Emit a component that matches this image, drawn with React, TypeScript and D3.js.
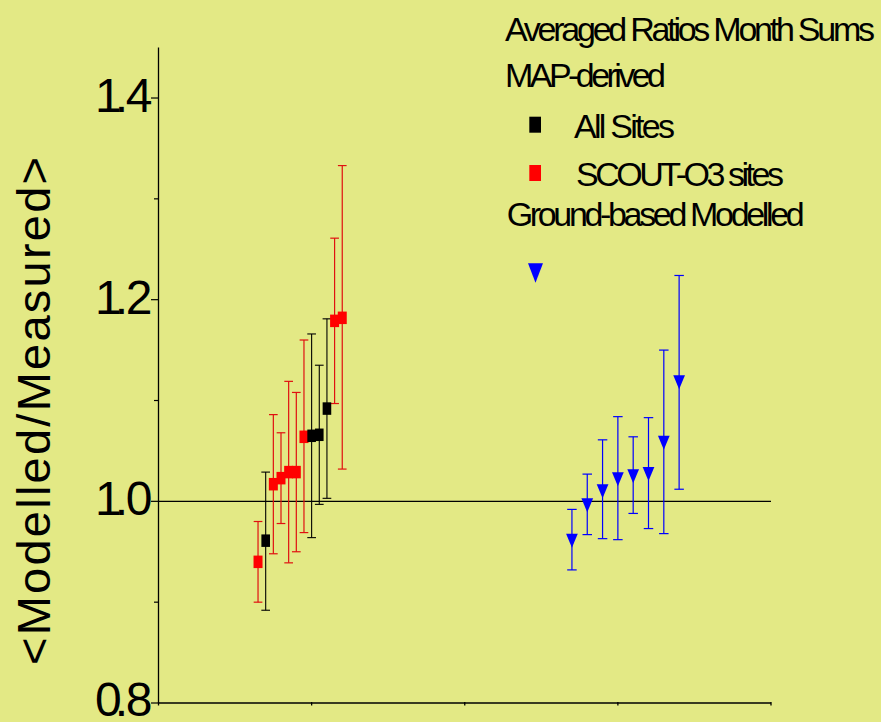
import React from "react";
import * as d3 from "d3";

// MAP-derived, SCOUT-O3 sites
const scoutX = [0.65, 0.75, 0.8, 0.85, 0.9, 0.95, 1.15, 1.2];
const scoutMean = [0.94, 1.017, 1.023, 1.029, 1.029, 1.064, 1.179, 1.182];
const scoutLow = [0.9, 0.948, 0.978, 0.939, 0.95, 0.969, 1.097, 1.032];
const scoutHigh = [0.98, 1.086, 1.068, 1.119, 1.108, 1.16, 1.261, 1.333];

// MAP-derived, all sites
const allX = [0.7, 1.0, 1.05, 1.1];
const allMean = [0.961, 1.065, 1.066, 1.092];
const allLow = [0.892, 0.964, 0.997, 1.003];
const allHigh = [1.029, 1.166, 1.135, 1.181];

// Ground-based modelled
const groundX = [2.7, 2.8, 2.9, 3.0, 3.1, 3.2, 3.3, 3.4];
const groundMean = [0.961, 0.996, 1.01, 1.022, 1.025, 1.027, 1.058, 1.118];
const groundLow = [0.932, 0.967, 0.963, 0.962, 0.988, 0.973, 0.968, 1.012];
const groundHigh = [0.992, 1.027, 1.061, 1.084, 1.064, 1.083, 1.15, 1.224];

const yMajorTicks = [0.8, 1.0, 1.2, 1.4];
const yMinorTicks = [0.9, 1.1, 1.3];
const xTicks = [0, 1, 2, 3, 4];

const legendTitle = "Averaged Ratios Month Sums";
const legendGroup1 = "MAP-derived";
const legendAll = "All Sites";
const legendScout = "SCOUT-O3 sites";
const legendGroup2 = "Ground-based Modelled";
const yTitle = "<Modelled/Measured>";

const W = 881;
const H = 722;
const BG = "#e3e985";
const FONT = "'Liberation Sans', Arial, Helvetica, sans-serif";

const x = d3.scaleLinear().domain([0, 4]).range([158.5, 771]);
const y = d3.scaleLinear().domain([0.8, 1.45]).range([703, 47.6]);

type Pt = { x: number; m: number; lo: number; hi: number };
const zip = (xs: number[], m: number[], lo: number[], hi: number[]): Pt[] =>
  xs.map((v, i) => ({ x: v, m: m[i], lo: lo[i], hi: hi[i] }));

const scoutPts = zip(scoutX, scoutMean, scoutLow, scoutHigh);
const allPts = zip(allX, allMean, allLow, allHigh);
const groundPts = zip(groundX, groundMean, groundLow, groundHigh);

function ErrorBar({ p, color, capW, sw }: { p: Pt; color: string; capW: number; sw: number }) {
  const cx = x(p.x);
  return (
    <g stroke={color} strokeWidth={sw}>
      <line x1={cx} x2={cx} y1={y(p.hi)} y2={y(p.lo)} />
      <line x1={cx - capW / 2} x2={cx + capW / 2} y1={y(p.hi)} y2={y(p.hi)} />
      <line x1={cx - capW / 2} x2={cx + capW / 2} y1={y(p.lo)} y2={y(p.lo)} />
    </g>
  );
}

const tri = (cx: number, cy: number, w: number, h: number) =>
  `M${cx - w / 2},${cy - h / 2}L${cx + w / 2},${cy - h / 2}L${cx},${cy + h / 2}Z`;

// tick label set tightly: integer digit, decimal point, tenths digit
function TickLabel({ v, ty }: { v: number; ty: number }) {
  const [a, b] = v.toFixed(1).split(".");
  return (
    <g fontSize={48} fill="#000">
      <text x={95} y={ty} textAnchor="start">{a}</text>
      <text x={121.5} y={ty} textAnchor="middle">.</text>
      <text x={152.5} y={ty} textAnchor="end">{b}</text>
    </g>
  );
}

export default function App() {
  const lineY1 = y(1.0);
  return (
    <svg
      width={W}
      height={H}
      style={{ position: "absolute", left: 0, top: 0, display: "block" }}
      fontFamily={FONT}
    >
      <rect x={0} y={0} width={W} height={H} fill={BG} />

      {/* reference line at ratio 1 */}
      <line x1={x(0)} x2={x(4)} y1={lineY1} y2={lineY1} stroke="#000" strokeWidth={1.1} />

      {/* axes */}
      <line x1={x(0)} x2={x(0)} y1={y(1.45)} y2={y(0.8)} stroke="#000" strokeWidth={1.3} />
      <line x1={x(0)} x2={x(4)} y1={y(0.8)} y2={y(0.8)} stroke="#000" strokeWidth={1.6} />
      {xTicks.map((t) => (
        <line key={t} x1={x(t)} x2={x(t)} y1={y(0.8) - 1} y2={y(0.8) + 2.5} stroke="#000" strokeWidth={1.3} />
      ))}
      {yMajorTicks.map((t) => (
        <g key={t}>
          <line x1={x(0) - 7.5} x2={x(0)} y1={y(t)} y2={y(t)} stroke="#000" strokeWidth={1.2} />
          <TickLabel v={t} ty={y(t) + (t === 0.8 ? 12.5 : 14)} />
        </g>
      ))}
      {yMinorTicks.map((t) => (
        <line key={t} x1={x(0) - 4.5} x2={x(0)} y1={y(t)} y2={y(t)} stroke="#000" strokeWidth={1.2} />
      ))}

      <text
        transform="translate(50,411) rotate(-90)"
        textAnchor="middle"
        fontSize={47}
        textLength={508}
        lengthAdjust="spacing"
        fill="#000"
      >
        {yTitle}
      </text>

      {/* MAP-derived: SCOUT-O3 sites */}
      {scoutPts.map((p, i) => (
        <ErrorBar key={"se" + i} p={p} color="#e01010" capW={8.7} sw={1.2} />
      ))}
      {/* MAP-derived: all sites */}
      {allPts.map((p, i) => (
        <ErrorBar key={"ae" + i} p={p} color="#000" capW={8.7} sw={1.1} />
      ))}
      {scoutPts.map((p, i) => (
        <rect key={"sm" + i} x={x(p.x) - 4.5} y={y(p.m) - 6.25} width={9} height={12.5} fill="#ff0000" />
      ))}
      {allPts.map((p, i) => (
        <rect key={"am" + i} x={x(p.x) - 4.3} y={y(p.m) - 6.25} width={8.6} height={12.5} fill="#000" />
      ))}

      {/* ground-based modelled */}
      {groundPts.map((p, i) => (
        <ErrorBar key={"ge" + i} p={p} color="#0000ff" capW={9.5} sw={1.2} />
      ))}
      {groundPts.map((p, i) => (
        <path key={"gm" + i} d={tri(x(p.x), y(p.m), 11.7, 14)} fill="#0000ff" />
      ))}

      {/* legend */}
      <g fill="#000" fontSize={34}>
        <text x={505} y={41} textLength={370} lengthAdjust="spacing">{legendTitle}</text>
        <text x={505} y={86.7} textLength={161} lengthAdjust="spacing">{legendGroup1}</text>
        <rect x={529.3} y={116.7} width={11.7} height={16} fill="#000" />
        <text x={574} y={137.7} textLength={101} lengthAdjust="spacing">{legendAll}</text>
        <rect x={529.3} y={165} width={11.7} height={16} fill="#ff0000" />
        <text x={576} y={185.7} textLength={208} lengthAdjust="spacing">{legendScout}</text>
        <text x={506.7} y={226} textLength={298} lengthAdjust="spacing">{legendGroup2}</text>
        <path d={tri(535.5, 273, 15, 19.4)} fill="#0000ff" />
      </g>
    </svg>
  );
}
